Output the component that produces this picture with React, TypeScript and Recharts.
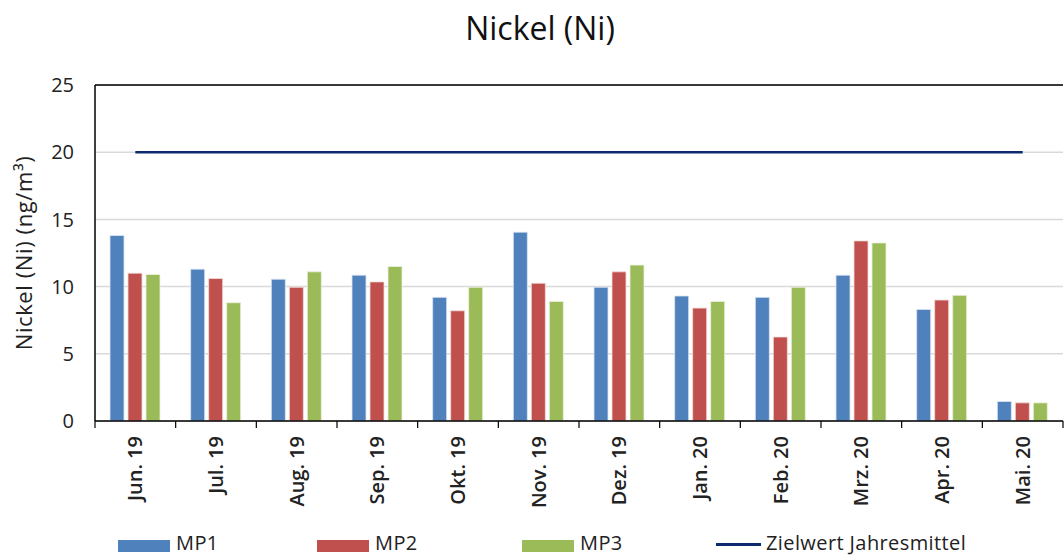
import { ComposedChart, Bar, Line, XAxis, YAxis, CartesianGrid, ReferenceLine } from "recharts"

const MONTHS = ["Jun. 19", "Jul. 19", "Aug. 19", "Sep. 19", "Okt. 19", "Nov. 19", "Dez. 19", "Jan. 20", "Feb. 20", "Mrz. 20", "Apr. 20", "Mai. 20"]
const MP1 = [13.8, 11.3, 10.55, 10.85, 9.2, 14.05, 9.95, 9.3, 9.2, 10.85, 8.3, 1.45]
const MP2 = [11.0, 10.6, 9.95, 10.35, 8.2, 10.25, 11.1, 8.4, 6.25, 13.4, 9.0, 1.35]
const MP3 = [10.9, 8.8, 11.1, 11.5, 9.95, 8.9, 11.6, 8.9, 9.95, 13.25, 9.35, 1.35]
const ZIELWERT = 20
const Y_TICKS = [0, 5, 10, 15, 20, 25]

const COLORS = {
  mp1: "#4F81BD",
  mp2: "#C0504D",
  mp3: "#9BBB59",
  ziel: "#0E2A6E",
}

const FONT = "'Open Sans', 'Noto Sans', sans-serif"

const data = MONTHS.map((m, i) => ({
  month: m,
  mp1: MP1[i],
  mp2: MP2[i],
  mp3: MP3[i],
  ziel: ZIELWERT,
}))

const W = 1064
const H = 556
const LEFT = 95
const RIGHT = 1
const BAND = (W - LEFT - RIGHT) / MONTHS.length

function MonthTick({ x, y, payload, index }: any) {
  const last = index === MONTHS.length - 1
  return (
    <g>
      <line x1={x - BAND / 2} y1={y} x2={x - BAND / 2} y2={y + 7} stroke="#000" strokeWidth={1.2} />
      {last && <line x1={x + BAND / 2} y1={y} x2={x + BAND / 2} y2={y + 7} stroke="#000" strokeWidth={1.2} />}
      <text
        x={x + 7}
        y={y + 15}
        transform={`rotate(-90 ${x + 7} ${y + 15})`}
        textAnchor="end"
        fontFamily={FONT}
        fontSize={20}
        fontWeight={600}
        fill="#222"
      >
        {payload.value}
      </text>
    </g>
  )
}

function LegendItem({ kind, color, label, left }: { kind: "box" | "line"; color: string; label: string; left: number }) {
  return (
    <div style={{ position: "absolute", left, top: 532, height: 22, display: "flex", alignItems: "center", fontFamily: FONT, fontSize: 20, color: "#222" }}>
      {kind === "box" ? (
        <div style={{ width: 52, height: 12, background: color, marginRight: 6, marginTop: 5 }} />
      ) : (
        <div style={{ width: 45, height: 3, background: color, marginRight: 5, marginTop: 3 }} />
      )}
      <span style={{ lineHeight: "22px", letterSpacing: 0.4 }}>{label}</span>
    </div>
  )
}

export default function App() {
  return (
    <div style={{ position: "absolute", left: 0, top: 0, width: W, height: H, background: "#fff", overflow: "hidden" }}>
      <div style={{ position: "absolute", left: 0, top: 8, width: 1080, textAlign: "center", fontFamily: FONT, fontSize: 32, lineHeight: "40px", color: "#111" }}>
        Nickel (Ni)
      </div>
      <ComposedChart
        width={W}
        height={H}
        data={data}
        margin={{ top: 85, right: RIGHT, bottom: 0, left: 0 }}
        barSize={14}
        barGap={4}
      >
        <CartesianGrid vertical={false} stroke="#D9D9D9" strokeWidth={1.5} />
        <ReferenceLine y={25} stroke="#000" strokeWidth={1.5} />
        <XAxis
          dataKey="month"
          height={135}
          axisLine={{ stroke: "#000", strokeWidth: 1.5 }}
          tickLine={false}
          tickSize={0}
          tickMargin={0}
          interval={0}
          tick={<MonthTick />}
        />
        <YAxis
          domain={[0, 25]}
          ticks={Y_TICKS}
          width={LEFT}
          axisLine={{ stroke: "#000", strokeWidth: 1.5 }}
          tickLine={false}
          tickSize={0}
          tickMargin={21}
          tick={{ fontFamily: FONT, fontSize: 20, fill: "#222" }}
          label={{
            value: "Nickel (Ni) (ng/m³)",
            angle: -90,
            position: "insideLeft",
            offset: 24,
            style: { fontFamily: FONT, fontSize: 22, fill: "#222", textAnchor: "middle", letterSpacing: 0.6 },
          }}
        />
        <Bar dataKey="mp1" name="MP1" fill={COLORS.mp1} stroke="#DCE6F2" strokeWidth={0.8} isAnimationActive={false} />
        <Bar dataKey="mp2" name="MP2" fill={COLORS.mp2} stroke="#F2DCDB" strokeWidth={0.8} isAnimationActive={false} />
        <Bar dataKey="mp3" name="MP3" fill={COLORS.mp3} stroke="#EBF1DE" strokeWidth={0.8} isAnimationActive={false} />
        <Line dataKey="ziel" name="Zielwert Jahresmittel" stroke={COLORS.ziel} strokeWidth={2.5} dot={false} activeDot={false} type="linear" isAnimationActive={false} />
      </ComposedChart>
      <LegendItem kind="box" color={COLORS.mp1} label="MP1" left={118} />
      <LegendItem kind="box" color={COLORS.mp2} label="MP2" left={317} />
      <LegendItem kind="box" color={COLORS.mp3} label="MP3" left={522} />
      <LegendItem kind="line" color={COLORS.ziel} label="Zielwert Jahresmittel" left={716} />
    </div>
  )
}
